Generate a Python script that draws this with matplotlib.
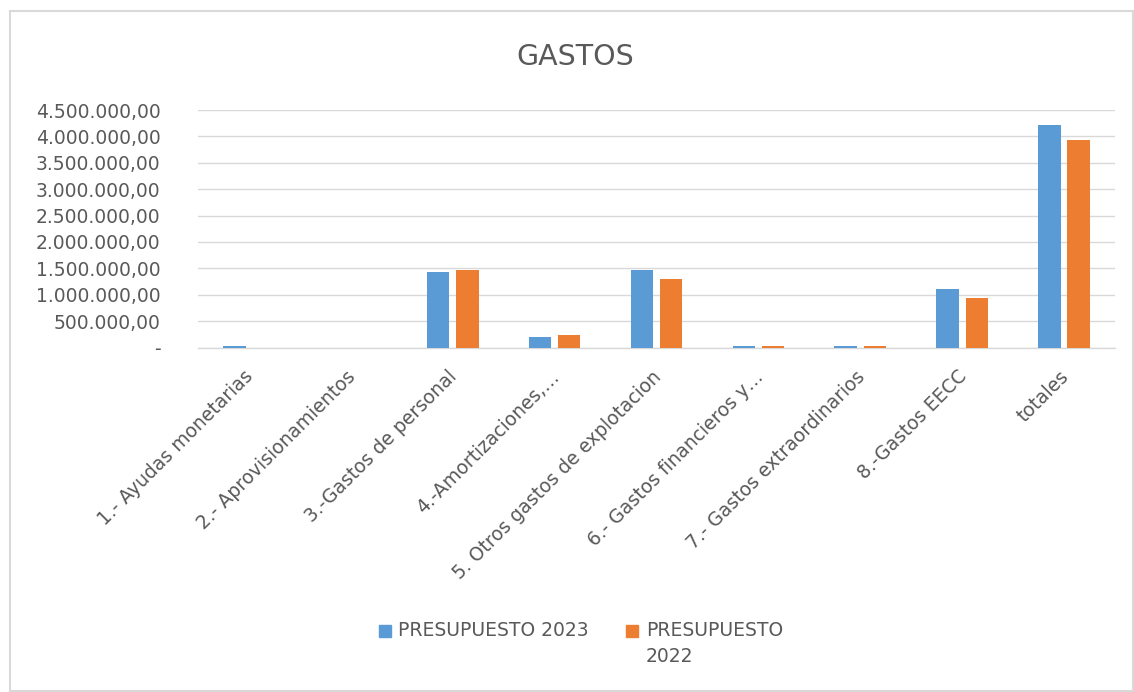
import numpy as np
import matplotlib
matplotlib.use("Agg")
import matplotlib.pyplot as plt
import matplotlib.transforms as mtransforms
from matplotlib.patches import Rectangle
from matplotlib.ticker import FuncFormatter

categories = ["1.- Ayudas monetarias", "2.- Aprovisionamientos", "3.-Gastos de personal",
              "4.-Amortizaciones,…", "5. Otros gastos de explotacion",
              "6.- Gastos financieros y…", "7.- Gastos extraordinarios",
              "8.-Gastos EECC", "totales"]
presupuesto_2023 = [25000, 0, 1424000, 200000, 1468000, 25000, 25000, 1108000, 4214000]
presupuesto_2022 = [0, 0, 1468000, 246000, 1297000, 25000, 25000, 932000, 3924000]
series_names = ["PRESUPUESTO 2023", "PRESUPUESTO\n2022"]

BLUE, ORANGE = "#5B9BD5", "#ED7D31"
GREY_TXT, GRID = "#595959", "#D9D9D9"
FS = 13.5

W, H = 1134, 692
fig = plt.figure(figsize=(W / 100, H / 100), dpi=100)
ax = fig.add_axes([198 / W, 1 - 347.5 / H, (1115 - 198) / W, (347.5 - 110) / H])

x = np.arange(len(categories))
ax.bar(x - 0.143, presupuesto_2023, width=0.22, color=BLUE, zorder=3)
ax.bar(x + 0.143, presupuesto_2022, width=0.22, color=ORANGE, zorder=3)

ax.set_xlim(-0.5, len(categories) - 0.5)
ax.set_ylim(0, 4500000)
ax.set_yticks(np.arange(0, 4500001, 500000))


def fmt(v, _):
    if v == 0:
        return "-"
    s = f"{v:,.2f}"
    return s.replace(",", "X").replace(".", ",").replace("X", ".")


ax.yaxis.set_major_formatter(FuncFormatter(fmt))
ax.grid(axis="y", color=GRID, lw=1, zorder=0)
for s in ["top", "right", "left"]:
    ax.spines[s].set_visible(False)
ax.spines["bottom"].set_color(GRID)
ax.spines["bottom"].set_linewidth(1)
ax.tick_params(axis="y", length=0, pad=27, labelsize=FS, labelcolor=GREY_TXT)
ax.tick_params(axis="x", length=0, pad=14, labelsize=FS, labelcolor=GREY_TXT)
ax.set_xticks(x)
ax.set_xticklabels(categories, rotation=45, ha="right", rotation_mode="anchor")
# nudge rotated labels a little to the left, like Excel places them
shift = mtransforms.ScaledTranslation(-5 / 100, 0, fig.dpi_scale_trans)
for lab in ax.get_xticklabels():
    lab.set_transform(lab.get_transform() + shift)

fig.text(575 / W, 1 - 57 / H, "GASTOS", ha="center", va="center",
         fontsize=20.5, color=GREY_TXT)

# legend drawn by hand (Excel style, wrapped second label)
fig.add_artist(Rectangle((379 / W, 1 - 637 / H), 12 / W, 12 / H,
                         transform=fig.transFigure, color=BLUE))
fig.text(398 / W, 1 - 631 / H, series_names[0], ha="left", va="center",
         fontsize=FS, color=GREY_TXT)
fig.add_artist(Rectangle((626 / W, 1 - 637 / H), 12 / W, 12 / H,
                         transform=fig.transFigure, color=ORANGE))
fig.text(646 / W, 1 - 621 / H, series_names[1], ha="left", va="top",
         fontsize=FS, color=GREY_TXT, linespacing=1.45)

# chart frame
fig.add_artist(Rectangle((10 / W, 1 / H), 1123 / W, 680 / H, transform=fig.transFigure,
                         fill=False, edgecolor=GRID, lw=1.5))

fig.savefig("out.png", dpi=100)
